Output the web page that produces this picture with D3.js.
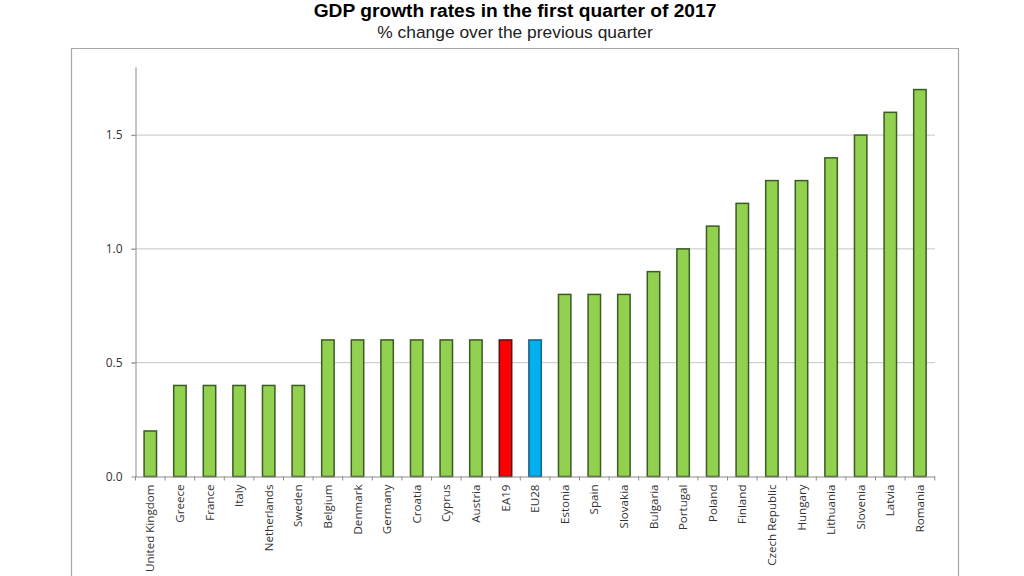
<!DOCTYPE html>
<html>
<head>
<meta charset="utf-8">
<script src="https://cdnjs.cloudflare.com/ajax/libs/d3/7.8.5/d3.min.js"></script>
<style>
  html, body { margin: 0; padding: 0; background: #fff; overflow: hidden; }
</style>
</head>
<body>
<div id="chart"></div>
<script>
var countries = ["United Kingdom", "Greece", "France", "Italy", "Netherlands", "Sweden", "Belgium", "Denmark", "Germany", "Croatia", "Cyprus", "Austria", "EA19", "EU28", "Estonia", "Spain", "Slovakia", "Bulgaria", "Portugal", "Poland", "Finland", "Czech Republic", "Hungary", "Lithuania", "Slovenia", "Latvia", "Romania"];
var growth = [0.2, 0.4, 0.4, 0.4, 0.4, 0.4, 0.6, 0.6, 0.6, 0.6, 0.6, 0.6, 0.6, 0.6, 0.8, 0.8, 0.8, 0.9, 1.0, 1.1, 1.2, 1.3, 1.3, 1.4, 1.5, 1.6, 1.7];
var yTicks = [0, 0.5, 1.0, 1.5];

var width = 1024, height = 576;

var svg = d3.select("#chart")
  .append("svg")
    .attr("width", width)
    .attr("height", height)
    .style("display", "block");

// title
svg.append("text").attr("x", 515).attr("y", 17)
  .attr("text-anchor", "middle")
  .style("font", "bold 19.2px 'Liberation Sans'")
  .style("fill", "#000")
  .text("GDP growth rates in the first quarter of 2017");
svg.append("text").attr("x", 515).attr("y", 38)
  .attr("text-anchor", "middle")
  .style("font", "17.4px 'Liberation Sans'")
  .style("fill", "#222")
  .text("% change over the previous quarter");

// outer frame, runs off the bottom of the page
svg.append("path")
  .attr("d", "M71.5,580V48.5H958.5V580")
  .attr("fill", "none")
  .attr("stroke", "#a6a6a6")
  .attr("stroke-width", 1.2);

var x = d3.scaleBand()
  .domain(countries)
  .range([135.5, 934.7])
  .paddingInner(0.58)
  .paddingOuter(0.29);

var y = d3.scaleLinear()
  .domain([0, 1.8])
  .range([476.5, 66.8]);

// gridlines
svg.append("g")
  .selectAll("line")
  .data(yTicks.slice(1))
  .enter()
  .append("line")
    .attr("x1", 131)
    .attr("x2", 935)
    .attr("y1", function(d) { return y(d); })
    .attr("y2", function(d) { return y(d); })
    .attr("stroke", "#c4c4c4")
    .attr("stroke-width", 1);

// bars
function barFill(name) {
  if (name === "EA19") return "#ff0000";
  if (name === "EU28") return "#00b0f0";
  return "#92d050";
}
function barStroke(name) {
  if (name === "EA19") return "#4a1a1a";
  if (name === "EU28") return "#1f5f7f";
  return "#3c5a24";
}
svg.append("g")
  .selectAll("rect")
  .data(countries)
  .enter()
  .append("rect")
    .attr("x", function(d) { return x(d); })
    .attr("y", function(d, i) { return y(growth[i]); })
    .attr("width", x.bandwidth())
    .attr("height", function(d, i) { return y(0) - y(growth[i]); })
    .attr("fill", barFill)
    .attr("stroke", barStroke)
    .attr("stroke-width", 1.5);

// y axis
var yAxis = svg.append("g")
  .attr("transform", "translate(135.5,0)")
  .call(d3.axisLeft(y).tickValues(yTicks).tickFormat(d3.format(".1f")).tickSizeInner(4).tickSizeOuter(0).tickPadding(9));
yAxis.selectAll("path, line").attr("stroke", "#8c8c8c");
yAxis.selectAll("text")
  .style("font", "12px 'Open Sans'")
  .style("fill", "#333");

// x axis, ticks sit between the bars
var step = x.step();
var xAxis = svg.append("g")
  .attr("transform", "translate(0,476.5)")
  .call(d3.axisBottom(x).tickSize(0).tickPadding(0));
xAxis.select("path").attr("stroke", "#8c8c8c");
xAxis.selectAll("text")
  .attr("transform", "rotate(-90)")
  .attr("x", -8)
  .attr("y", 0)
  .attr("dy", "0.35em")
  .attr("text-anchor", "end")
  .style("font", "11.6px 'Open Sans'")
  .style("fill", "#333");
xAxis.selectAll(".tick")
  .append("line")
    .attr("x1", -step / 2)
    .attr("x2", -step / 2)
    .attr("y1", 0)
    .attr("y2", 4)
    .attr("stroke", "#8c8c8c");
xAxis.append("line")
  .attr("x1", x.range()[1])
  .attr("x2", x.range()[1])
  .attr("y1", 0)
  .attr("y2", 4)
  .attr("stroke", "#8c8c8c");
</script>
</body>
</html>
